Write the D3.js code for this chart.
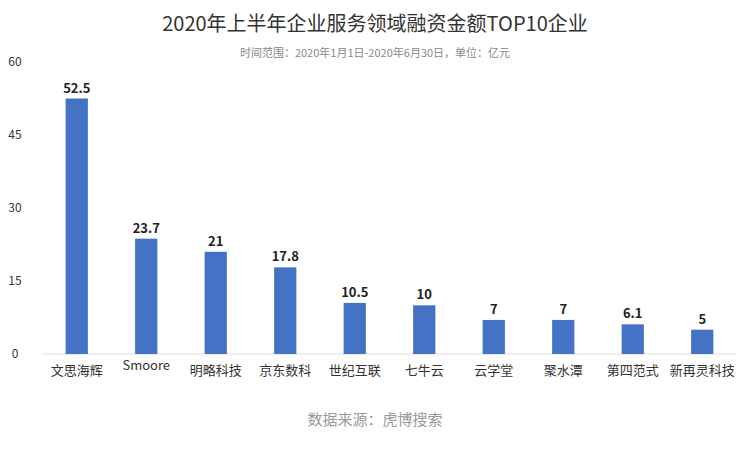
<!DOCTYPE html>
<html><head><meta charset="utf-8">
<script src="https://cdn.jsdelivr.net/npm/d3@7"></script>
<style>body{margin:0;background:#fff;font-family:"Noto Sans CJK SC","Noto Sans",sans-serif}</style>
</head><body><div id="chart"></div>
<script>
const categories = ["文思海辉","Smoore","明略科技","京东数科","世纪互联","七牛云","云学堂","聚水潭","第四范式","新再灵科技"];
const values = [52.5, 23.7, 21, 17.8, 10.5, 10, 7, 7, 6.1, 5];
const yTicks = [0, 15, 30, 45, 60];

const W = 750, H = 454;
const svg = d3.select("#chart").append("svg").attr("width", W).attr("height", H);
const font = '"Noto Sans CJK SC","Noto Sans",sans-serif';

const x = d3.scaleBand().domain(categories).range([42, 737]).paddingInner(0.68).paddingOuter(0.34);
const y = d3.scaleLinear().domain([0, 60]).range([354, 62]);

svg.append("text").attr("x", W/2).attr("y", 31).attr("text-anchor", "middle")
  .attr("font-family", font).attr("font-size", 20).attr("fill", "#333")
  .text("2020年上半年企业服务领域融资金额TOP10企业");
svg.append("text").attr("x", W/2).attr("y", 57).attr("text-anchor", "middle")
  .attr("font-family", font).attr("font-size", 11).attr("fill", "#888")
  .text("时间范围：2020年1月1日-2020年6月30日，单位：亿元");

// y tick labels
svg.append("g").selectAll("text").data(yTicks).join("text")
  .attr("x", 15).attr("y", d => y(d) + 4).attr("text-anchor", "middle")
  .attr("font-family", font).attr("font-size", 12).attr("fill", "#333")
  .text(d => d);

svg.append("line").attr("x1", 42).attr("x2", 737).attr("y1", y(0)).attr("y2", y(0))
  .attr("stroke", "#ddd");

svg.append("g").selectAll("rect").data(values).join("rect")
  .attr("x", (d, i) => x(categories[i])).attr("width", x.bandwidth())
  .attr("y", d => y(d)).attr("height", d => y(0) - y(d))
  .attr("fill", "#4472C4");

svg.append("g").selectAll("text").data(values).join("text")
  .attr("x", (d, i) => x(categories[i]) + x.bandwidth()/2).attr("y", d => y(d) - 6)
  .attr("text-anchor", "middle").attr("font-family", font).attr("font-size", 13)
  .attr("font-weight", "bold").attr("fill", "#222").text(d => d);

svg.append("g").selectAll("text").data(categories).join("text")
  .attr("x", d => x(d) + x.bandwidth()/2).attr("y", d => d === "Smoore" ? 370 : 375)
  .attr("text-anchor", "middle").attr("font-family", font).attr("font-size", 13)
  .attr("fill", "#333").text(d => d);

svg.append("text").attr("x", W/2).attr("y", 425).attr("text-anchor", "middle")
  .attr("font-family", font).attr("font-size", 15).attr("fill", "#999")
  .text("数据来源：虎博搜索");
</script></body></html>
